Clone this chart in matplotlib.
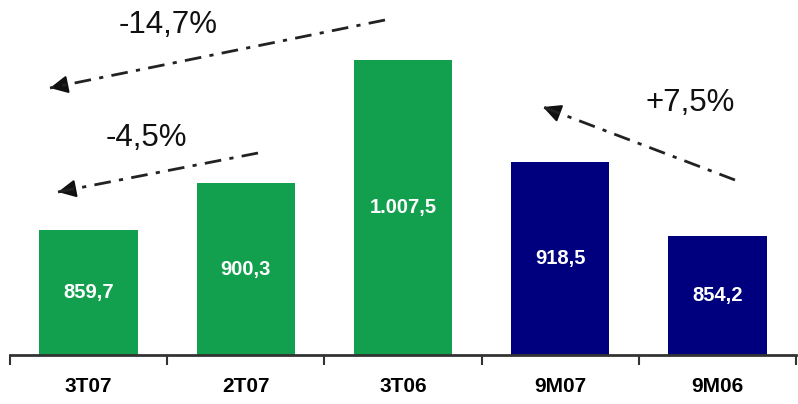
import matplotlib.pyplot as plt
from matplotlib.patches import FancyArrowPatch
from matplotlib.lines import Line2D
import numpy as np

# Data
periods = ["3T07", "2T07", "3T06", "9M07", "9M06"]
values = [859.7, 900.3, 1007.5, 918.5, 854.2]
value_labels = ["859,7", "900,3", "1.007,5", "918,5", "854,2"]
bar_colors = ["#13A04E", "#13A04E", "#13A04E", "#00007F", "#00007F"]
changes = ["-14,7%", "-4,5%", "+7,5%"]

positions = np.arange(len(periods))

fig = plt.figure(figsize=(7.98, 4.04), dpi=100)
ax = fig.add_axes([10 / 798, 1 - 355 / 404, 786 / 798, 355 / 404])

ax.bar(positions, values, width=0.625, color=bar_colors, zorder=2)
ax.set_xlim(-0.5, len(periods) - 0.5)
ax.set_ylim(751, 1059.7)

arial = ["Liberation Sans", "DejaVu Sans"]
for x, v, lab in zip(positions, values, value_labels):
    ax.text(x, (751 + v) / 2, lab, ha="center", va="center", color="white",
            fontsize=14.5, fontweight="bold", family=arial)

# axis styling
for side in ["left", "right", "top"]:
    ax.spines[side].set_visible(False)
ax.spines["bottom"].set_color("#333333")
ax.spines["bottom"].set_linewidth(2)
ax.set_yticks([])
ax.set_xticks(np.arange(len(periods) + 1) - 0.5)
ax.set_xticklabels([])
ax.tick_params(axis="x", which="major", direction="out", length=7, width=1.5, color="#333333")
ax.set_xticks(positions, minor=True)
ax.set_xticklabels(periods, minor=True, fontsize=15, fontweight="bold", family=arial)
ax.tick_params(axis="x", which="minor", length=0, pad=16)

# change arrows (in figure pixels)
def px(x, y):
    return (x / 798, 1 - y / 404)

arrows = [((385, 20), (50, 88)), ((258, 153), (58, 192)), ((735, 180), (543, 107))]
label_pos = [(168, 25), (146, 138), (690, 103)]
for (start, end), text, tp in zip(arrows, changes, label_pos):
    (x0, y0), (x1, y1) = px(*start), px(*end)
    fig.add_artist(Line2D([x0, x1], [y0, y1], transform=fig.transFigure,
                          linestyle=(0, (6, 3, 1.5, 3)), linewidth=2, color="#222222"))
    # solid head: short segment at the end
    sx, sy = start
    ex, ey = end
    d = np.hypot(ex - sx, ey - sy)
    hx, hy = ex - (ex - sx) / d * 14, ey - (ey - sy) / d * 14
    fig.add_artist(FancyArrowPatch(px(hx, hy), (x1, y1), transform=fig.transFigure,
                                   arrowstyle="-|>,head_length=0.9,head_width=0.45",
                                   mutation_scale=12, linewidth=1.5, color="#111111",
                                   shrinkA=0, shrinkB=0))
    fig.text(*px(*tp), text, ha="center", va="center", fontsize=22.5,
             family=arial, color="#111111")

fig.savefig("out.png", dpi=100)
